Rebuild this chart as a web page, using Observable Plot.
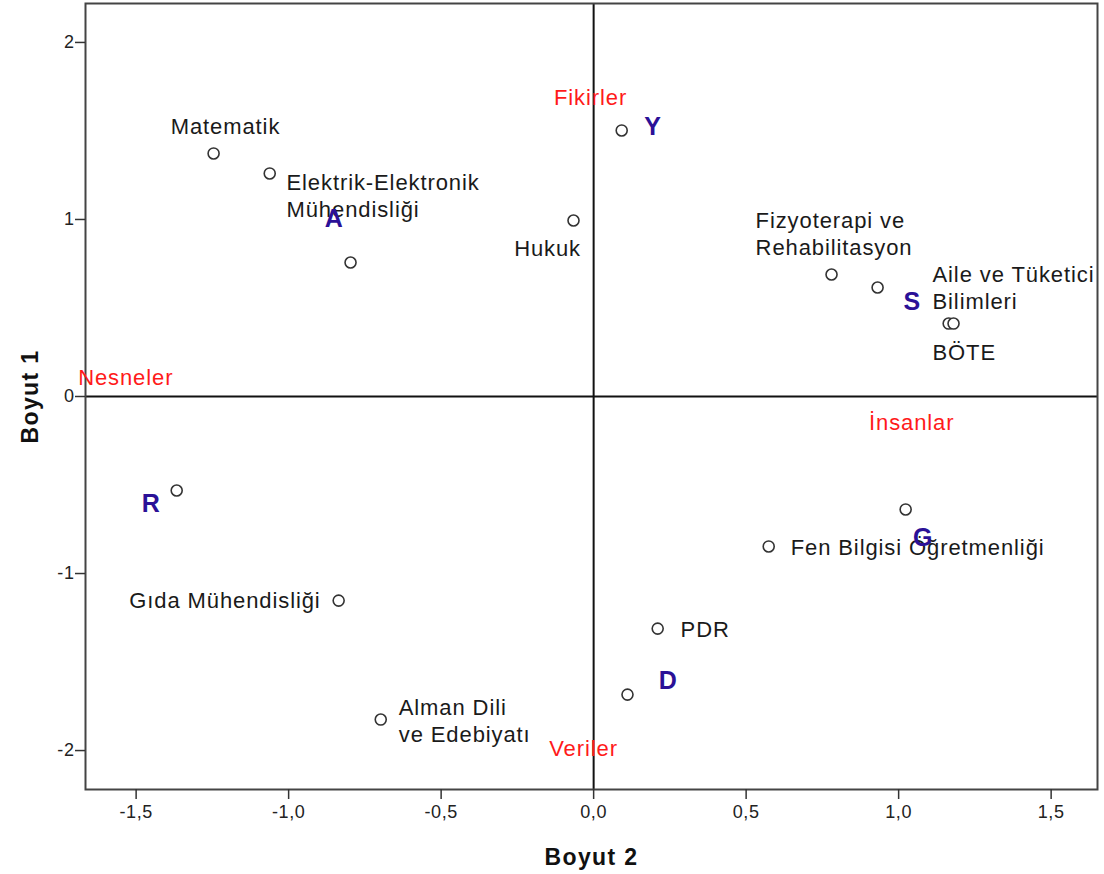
<!DOCTYPE html>
<html>
<head>
<meta charset="utf-8">
<script src="https://cdn.jsdelivr.net/npm/d3@7"></script>
<script src="https://cdn.jsdelivr.net/npm/@observablehq/plot@0.6"></script>
<style>
  body { margin: 0; background: #fff; }
  #chart svg { display: block; }
</style>
</head>
<body>
<div id="chart"></div>
<script>
// Point coordinates (Boyut 2 = x, Boyut 1 = y)
const pointX = [-1.246, -1.062, -0.797, -0.066, 0.092, 0.780, 0.931, 1.164, 1.180, -1.367, -0.836, -0.698, 0.210, 0.111, 0.574, 1.023];
const pointY = [1.373, 1.260, 0.757, 0.994, 1.503, 0.689, 0.616, 0.412, 0.412, -0.531, -1.153, -1.825, -1.311, -1.684, -0.847, -0.638];

// Department labels (data coordinates of label anchor)
const startNames = ["Elektrik-Elektronik\nMühendisliği", "Fizyoterapi ve\nRehabilitasyon", "Aile ve Tüketici\nBilimleri", "BÖTE", "Fen Bilgisi Öğretmenliği", "PDR", "Alman Dili\nve Edebiyatı"];
const startX = [-1.007, 0.531, 1.111, 1.111, 0.646, 0.285, -0.639];
const startY = [1.138, 0.924, 0.621, 0.254, -0.847, -1.311, -1.825];

const middleNames = ["Matematik", "Hukuk"];
const middleX = [-1.207, -0.151];
const middleY = [1.525, 0.831];

const endNames = ["Gıda Mühendisliği"];
const endX = [-0.895];
const endY = [-1.153];

// RIASEC letters
const letters = ["A", "Y", "S", "R", "G", "D"];
const letterX = [-0.852, 0.193, 1.043, -1.452, 1.079, 0.243];
const letterY = [1.000, 1.525, 0.531, -0.610, -0.800, -1.605];

// Pole labels
const poles = ["Fikirler", "Nesneler", "İnsanlar", "Veriler"];
const poleX = [-0.010, -1.534, 1.043, -0.033];
const poleY = [1.689, 0.107, -0.147, -1.990];

const xTicks = [-1.5, -1.0, -0.5, 0.0, 0.5, 1.0, 1.5];
const yTicks = [-2, -1, 0, 1, 2];

const pts = pointX.map((x, i) => ({x, y: pointY[i]}));
const startLabels = startNames.map((t, i) => ({t, x: startX[i], y: startY[i]}));
const middleLabels = middleNames.map((t, i) => ({t, x: middleX[i], y: middleY[i]}));
const endLabels = endNames.map((t, i) => ({t, x: endX[i], y: endY[i]}));
const letterData = letters.map((t, i) => ({t, x: letterX[i], y: letterY[i]}));
const poleData = poles.map((t, i) => ({t, x: poleX[i], y: poleY[i]}));

const fmt = d => d3.format(".1f")(d).replace(".", ",").replace("−", "-");
const labelFont = "'Liberation Sans', Arial, sans-serif";

const chart = Plot.plot({
  width: 1104,
  height: 874,
  marginLeft: 85,
  marginRight: 7,
  marginTop: 3,
  marginBottom: 85,
  style: {fontFamily: labelFont, color: "#222", background: "#fff"},
  x: {domain: [-1.666, 1.652]},
  y: {domain: [-2.22, 2.22]},
  marks: [
    Plot.ruleX([0], {stroke: "#111", strokeWidth: 2}),
    Plot.ruleY([0], {stroke: "#111", strokeWidth: 2}),
    Plot.frame({stroke: "#444", strokeWidth: 2}),
    Plot.axisX({ticks: xTicks, tickFormat: fmt, tickSize: 10, tickPadding: 6, fontSize: 18, label: null, stroke: "#333", strokeWidth: 1.5}),
    Plot.axisY({ticks: yTicks, tickFormat: d => String(d).replace("−", "-"), tickSize: 10, tickPadding: 1, fontSize: 18, label: null, stroke: "#333", strokeWidth: 1.5}),
    Plot.dot(pts, {x: "x", y: "y", r: 5.5, stroke: "#333", strokeWidth: 1.6, fill: "#fff"}),
    Plot.text(startLabels, {x: "x", y: "y", text: "t", textAnchor: "start", fontSize: 22, lineHeight: 1.22, fill: "#1a1a1a"}),
    Plot.text(middleLabels, {x: "x", y: "y", text: "t", textAnchor: "middle", fontSize: 22, fill: "#1a1a1a"}),
    Plot.text(endLabels, {x: "x", y: "y", text: "t", textAnchor: "end", fontSize: 22, fill: "#1a1a1a"}),
    Plot.text(poleData, {x: "x", y: "y", text: "t", fontSize: 22, fill: "#ff1a1a"}),
    Plot.text(letterData, {x: "x", y: "y", text: "t", fontSize: 25, fontWeight: "bold", fill: "#2b1197"}),
    Plot.text(["Boyut 2"], {frameAnchor: "bottom", dy: 68, textAnchor: "middle", lineAnchor: "middle", fontSize: 23, fontWeight: "bold", fill: "#111"}),
    Plot.text(["Boyut 1"], {frameAnchor: "left", dx: -55, textAnchor: "middle", lineAnchor: "middle", rotate: -90, fontSize: 23, fontWeight: "bold", fill: "#111"})
  ]
});

const sel = d3.select(chart);
sel.selectAll('g[fill="#1a1a1a"] text, g[fill="#ff1a1a"] text').style("letter-spacing", "0.9px");
sel.selectAll('g[fill="#111"] text').style("letter-spacing", "1.4px");
sel.selectAll('g[aria-label="x-axis tick label"] text, g[aria-label="y-axis tick label"] text').style("letter-spacing", "0.6px");
document.getElementById("chart").appendChild(chart);
</script>
</body>
</html>
